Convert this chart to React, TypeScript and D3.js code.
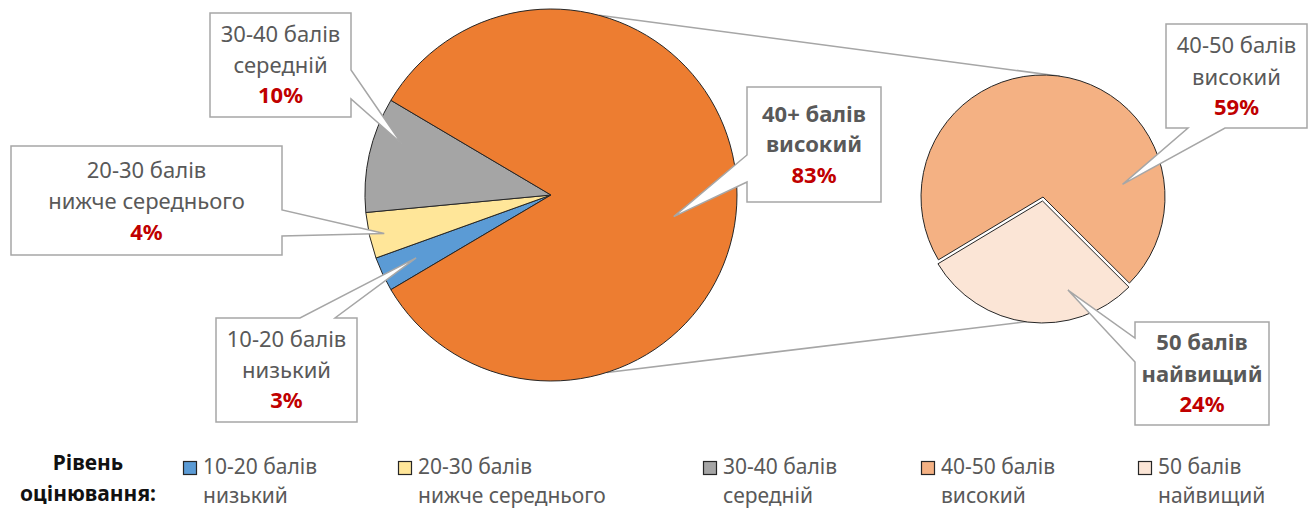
import { useEffect, useRef } from 'react';
import * as d3 from 'd3';

// Main pie: score bands, the last one is split into the second pie
const mainBands = ['10-20 балів', '20-30 балів', '30-40 балів', '40+ балів'];
const mainLevels = ['низький', 'нижче середнього', 'середній', 'високий'];
const mainValues = [3, 4, 10, 83];
const mainColors = ['#5B9BD5', '#FFE699', '#A5A5A5', '#ED7D31'];

// Second pie: breakdown of 40+
const subBands = ['40-50 балів', '50 балів'];
const subLevels = ['високий', 'найвищий'];
const subValues = [59, 24];
const subColors = ['#F4B183', '#FBE5D6'];

const legendTitle = ['Рівень', 'оцінювання:'];

const W = 1315;
const H = 510;
const FONT = '"Noto Sans", "DejaVu Sans", sans-serif';
const TEXT_GRAY = '#595959';
const RED = '#C00000';
const BOX_STROKE = '#A6A6A6';

type Side = 'top' | 'right' | 'bottom' | 'left';
interface Callout {
  x: number; y: number; w: number; h: number;
  side: Side; s0: number; s1: number;
  tipAngle: number; tipR: number;
  lines: number[]; bold: boolean;
}

// callout layout for main pie slices (same order as mainValues)
const mainCallouts: Callout[] = [
  { x: 216, y: 318, w: 141, h: 104, side: 'top', s0: 300, s1: 335, tipAngle: 245, tipR: 0.8, lines: [29, 60, 90], bold: false },
  { x: 11, y: 146, w: 271, h: 109, side: 'right', s0: 210, s1: 236, tipAngle: 257, tipR: 0.92, lines: [32, 63, 94], bold: false },
  { x: 210, y: 13, w: 141, h: 104, side: 'right', s0: 70, s1: 99, tipAngle: 289, tipR: 0.85, lines: [29, 60, 90], bold: false },
  { x: 747, y: 87, w: 134, h: 115, side: 'left', s0: 155, s1: 182, tipAngle: 100, tipR: 0.67, lines: [35, 65, 96], bold: true },
];
const subCallouts: Callout[] = [
  { x: 1166, y: 24, w: 141, h: 104, side: 'bottom', s0: 1188, s1: 1225, tipAngle: 81, tipR: 0.66, lines: [29, 61, 91], bold: false },
  { x: 1135, y: 322, w: 134, h: 103, side: 'left', s0: 338, s1: 362, tipAngle: 165, tipR: 0.79, lines: [28, 60, 90], bold: true },
];

// legend marker x positions
const legendX = [183, 398, 703, 921, 1138];

const deg = (a: number) => (a * Math.PI) / 180;

function calloutPath(c: Callout, tip: [number, number]) {
  const [tx, ty] = tip;
  const { x, y, w, h, side, s0, s1 } = c;
  let p = `M${x},${y}`;
  if (side === 'top') p += `L${s0},${y}L${tx},${ty}L${s1},${y}`;
  p += `L${x + w},${y}`;
  if (side === 'right') p += `L${x + w},${s0}L${tx},${ty}L${x + w},${s1}`;
  p += `L${x + w},${y + h}`;
  if (side === 'bottom') p += `L${s1},${y + h}L${tx},${ty}L${s0},${y + h}`;
  p += `L${x},${y + h}`;
  if (side === 'left') p += `L${x},${s1}L${tx},${ty}L${x},${s0}`;
  return p + 'Z';
}

function PieOfPie() {
  const svgRef = useRef<SVGSVGElement>(null);

  useEffect(() => {
    if (!svgRef.current) return;
    const svg = d3.select(svgRef.current);
    svg.selectAll('*').remove();

    const main = { cx: 551, cy: 195, r: 186 };
    const sub = { cx: 1043, cy: 197, r: 122 };

    // Excel centres the "other" slice on the right side
    const total = d3.sum(mainValues);
    const other = mainValues[mainValues.length - 1];
    const start = Math.PI / 2 + (other / total) * Math.PI;
    const mainPie = d3.pie<number>().sort(null).startAngle(start).endAngle(start + 2 * Math.PI);
    const mainArcs = mainPie(mainValues);

    const subStart = deg(-121);
    const subPie = d3.pie<number>().sort(null).startAngle(subStart).endAngle(subStart + 2 * Math.PI);
    const subArcs = subPie(subValues);

    const mainArc = d3.arc<d3.PieArcDatum<number>>().innerRadius(0).outerRadius(main.r);
    const subArc = d3.arc<d3.PieArcDatum<number>>().innerRadius(0).outerRadius(sub.r);

    // connector lines between the pies
    const conn = [
      [d3.pointRadial(deg(15), main.r), d3.pointRadial(deg(8), sub.r)],
      [d3.pointRadial(deg(162.5), main.r), d3.pointRadial(deg(177), sub.r)],
    ];
    conn.forEach(([a, b]) => {
      svg.append('line')
        .attr('x1', main.cx + a[0]).attr('y1', main.cy + a[1])
        .attr('x2', sub.cx + b[0]).attr('y2', sub.cy + b[1])
        .attr('stroke', BOX_STROKE)
        .attr('stroke-width', 1.5);
    });

    // main pie
    const gMain = svg.append('g').attr('transform', `translate(${main.cx},${main.cy})`);
    gMain.selectAll('path')
      .data(mainArcs)
      .join('path')
      .attr('d', mainArc)
      .attr('fill', (_, i) => mainColors[i])
      .attr('stroke', '#262626')
      .attr('stroke-width', 1);

    // second pie, last slice slightly pulled out
    const gSub = svg.append('g').attr('transform', `translate(${sub.cx},${sub.cy})`);
    gSub.selectAll('path')
      .data(subArcs)
      .join('path')
      .attr('transform', (d, i) => {
        if (i !== subArcs.length - 1) return null;
        const [ox, oy] = d3.pointRadial((d.startAngle + d.endAngle) / 2, 4);
        return `translate(${ox},${oy})`;
      })
      .attr('d', subArc)
      .attr('fill', (_, i) => subColors[i])
      .attr('stroke', '#262626')
      .attr('stroke-width', 1);

    // callouts
    const drawCallout = (c: Callout, cx: number, cy: number, r: number, band: string, level: string, pct: string) => {
      const [px, py] = d3.pointRadial(deg(c.tipAngle), r * c.tipR);
      svg.append('path')
        .attr('d', calloutPath(c, [cx + px, cy + py]))
        .attr('fill', '#fff')
        .attr('stroke', BOX_STROKE)
        .attr('stroke-width', 1.5);
      const texts = [band, level, pct];
      texts.forEach((t, i) => {
        svg.append('text')
          .attr('x', c.x + c.w / 2)
          .attr('y', c.y + c.lines[i])
          .attr('text-anchor', 'middle')
          .attr('font-family', FONT)
          .attr('font-size', 22)
          .attr('font-weight', c.bold || i === 2 ? 'bold' : 'normal')
          .attr('fill', i === 2 ? RED : TEXT_GRAY)
          .text(t);
      });
    };

    mainValues.forEach((v, i) => {
      drawCallout(mainCallouts[i], main.cx, main.cy, main.r, mainBands[i], mainLevels[i], `${Math.round((v / total) * 100)}%`);
    });
    const subTotal = d3.sum(subValues);
    subValues.forEach((v, i) => {
      // percentages of the whole group
      const pct = Math.round((v / subTotal) * other);
      drawCallout(subCallouts[i], sub.cx, sub.cy, sub.r, subBands[i], subLevels[i], `${pct}%`);
    });

    // legend
    legendTitle.forEach((t, i) => {
      svg.append('text')
        .attr('x', 88)
        .attr('y', 470 + i * 31)
        .attr('text-anchor', 'middle')
        .attr('font-family', FONT)
        .attr('font-size', 21)
        .attr('font-weight', 'bold')
        .attr('fill', '#111')
        .text(t);
    });

    const legendItems = [
      ...mainBands.slice(0, -1).map((b, i) => ({ band: b, level: mainLevels[i], color: mainColors[i] })),
      ...subBands.map((b, i) => ({ band: b, level: subLevels[i], color: subColors[i] })),
    ];
    legendItems.forEach((it, i) => {
      const x = legendX[i];
      svg.append('rect')
        .attr('x', x + 0.5).attr('y', 461.5)
        .attr('width', 13).attr('height', 13)
        .attr('fill', it.color)
        .attr('stroke', '#262626')
        .attr('stroke-width', 1.2);
      [it.band, it.level].forEach((t, j) => {
        svg.append('text')
          .attr('x', x + 20)
          .attr('y', 474 + j * 29)
          .attr('font-family', FONT)
          .attr('font-size', 21)
          .attr('fill', TEXT_GRAY)
          .text(t);
      });
    });
  }, []);

  return (
    <svg
      ref={svgRef}
      width={W}
      height={H}
      style={{ position: 'absolute', left: 0, top: 0, background: '#fff' }}
    />
  );
}

export default function App() {
  return <PieOfPie />;
}
